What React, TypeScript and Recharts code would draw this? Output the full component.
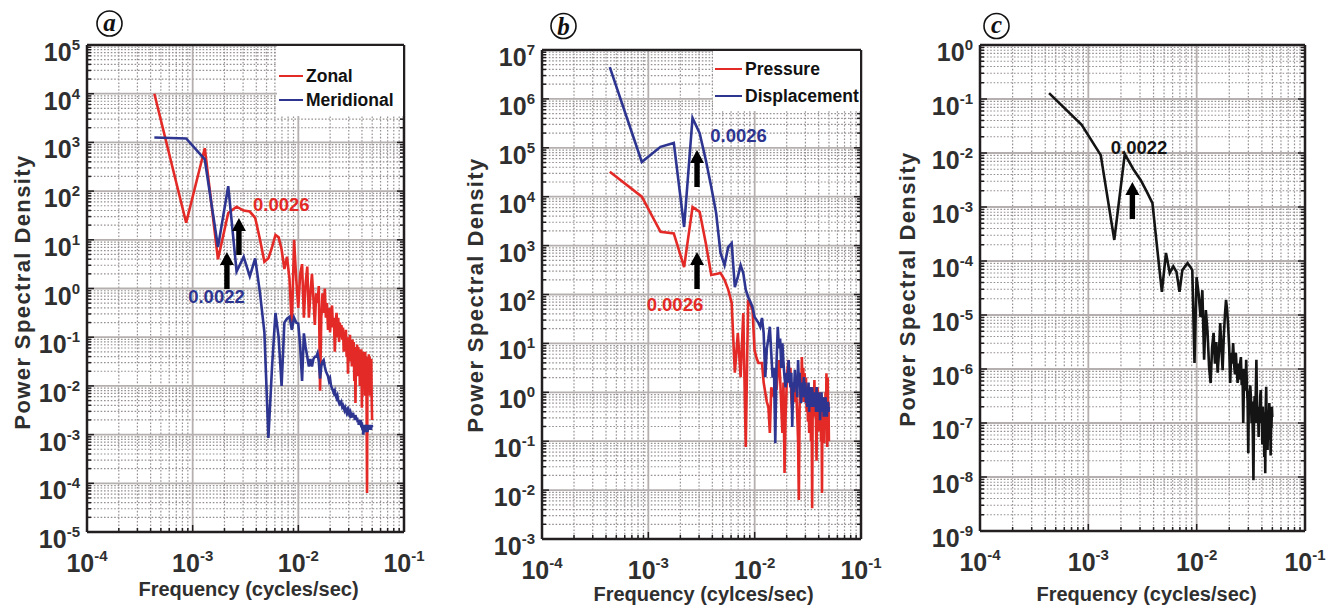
import React from "react";
import { CartesianGrid, Legend, Line, LineChart, ReferenceDot, XAxis, YAxis } from "recharts";

const RED = "#e42a26";
const BLUE = "#2d3590";
const BLACK = "#141414";
const AXIS = "#231f20";
const TXT = "#2f2f2f";
const SANS = "'Liberation Sans', Arial, Helvetica, sans-serif";
const SERIF = "'Liberation Serif', 'Times New Roman', serif";

// FFT bins: f = k * DF, k = 1..115
const DF = 0.000434;
const FREQ = Array.from({ length: 115 }, (_, i) => (i + 1) * DF);

const X_DECADES = [1e-4, 1e-3, 1e-2, 1e-1];
const Y_DECADES_A = [1e-5, 1e-4, 1e-3, 1e-2, 1e-1, 1, 10, 100, 1e3, 1e4, 1e5];
const Y_DECADES_B = [1e-3, 1e-2, 1e-1, 1, 10, 100, 1e3, 1e4, 1e5, 1e6, 1e7];
const Y_DECADES_C = [1e-9, 1e-8, 1e-7, 1e-6, 1e-5, 1e-4, 1e-3, 1e-2, 1e-1, 1];

// log10 of the PSD, one value per bin
const ZONAL_LOG = [
  4.0, 1.35, 2.88, 0.6, 1.55, 1.68, 1.6, 1.58, 1.45, 1.0,
  0.55, 0.62, 0.85, 1.1, 1.05, 0.8, 0.4, 0.65, 0.2, -0.8,
  1.0, 0.2, -0.4, 0.3, 0.5, -0.6, 0.1, 0.45, -0.6, -0.1,
  0.3, -0.2, -0.75, -0.1, -0.3, 0.05, -2.1, -0.6, -0.1, -0.5,
  0.0, -0.6, -0.3, -0.85, -0.4, -0.9, -0.5, -0.35, -0.8, -0.6,
  -1.3, -0.7, -0.5, -1.0, -0.6, -1.1, -0.7, -1.0, -0.75, -1.05,
  -0.8, -1.3, -0.9, -1.2, -0.85, -1.4, -1.0, -1.75, -1.0, -1.3,
  -0.95, -1.5, -1.1, -1.6, -1.05, -1.4, -1.1, -1.9, -1.2, -2.35,
  -1.3, -1.6, -1.15, -1.8, -1.2, -1.5, -1.25, -2.0, -1.3, -1.7,
  -1.25, -2.45, -1.35, -1.9, -1.3, -1.6, -1.45, -2.2, -1.3, -1.8,
  -1.4, -2.4, -4.2, -1.5, -1.45, -2.0, -1.35, -1.9, -1.4, -2.2,
  -1.5, -1.8, -1.45, -2.3, -2.7,
];
const MERIDIONAL_LOG = [
  3.1, 3.08, 2.65, 0.85, 2.1, 0.35, 0.65, 0.25, 0.62, -0.1,
  -0.9, -3.07, -1.6, -0.5, -1.0, -2.0, -0.7, -0.62, -0.58, -0.85,
  -0.6, -0.7, -0.72, -1.2, -1.9, -0.92, -1.2, -1.4, -1.6, -1.45,
  -1.6, -1.45, -1.4, -1.4, -1.33, -1.5, -1.85, -1.6, -1.5, -1.47,
  -1.6, -1.7, -1.75, -1.8, -1.9, -1.85, -2.0, -2.05, -2.1, -2.15,
  -2.1, -2.2, -2.25, -2.2, -2.3, -2.35, -2.3, -2.4, -2.35, -2.43,
  -2.4, -2.45, -2.5, -2.45, -2.5, -2.55, -2.5, -2.55, -2.5, -2.55,
  -2.6, -2.55, -2.6, -2.65, -2.6, -2.55, -2.65, -2.6, -2.7, -2.6,
  -2.65, -2.7, -2.65, -2.75, -2.7, -2.8, -2.7, -2.75, -2.8, -2.7,
  -2.85, -2.75, -2.9, -2.8, -3.0, -2.85, -2.8, -2.9, -2.95, -2.8,
  -2.85, -2.9, -2.8, -2.95, -2.85, -2.9, -2.8, -2.85, -2.9, -2.85,
  -2.8, -2.9, -2.85, -2.8, -2.85,
];
const PRESSURE_LOG = [
  4.51, 4.0, 3.28, 3.25, 2.56, 3.79, 3.69, 3.05, 2.4, 2.42,
  2.44, 2.3, 2.1, 1.83, 0.4, 1.21, 0.31, 1.62, -1.12, 1.89,
  1.8, 1.68, 0.86, 0.7, 0.6, 0.6, 0.6, 0.2, -0.01, -0.2,
  -0.3, -0.83, 0.1, 0.0, -0.1, 0.2, 0.05, 0.4, 0.66, 0.3,
  -0.3, -0.83, 0.2, -1.65, -0.5, 0.11, 0.5, 0.66, 0.2, 0.5,
  -0.1, -0.36, 0.1, 0.2, -0.2, 0.3, -0.1, -0.5, -1.0, -2.2,
  -0.3, 0.2, -0.2, 0.72, 0.1, 0.5, -0.2, 0.39, 0.0, 0.3,
  -0.4, 0.1, -0.6, 0.0, -0.83, -0.3, -0.1, -1.0, 0.0, -2.37,
  -0.2, 0.1, -0.5, 0.25, -0.3, 0.0, -0.7, -1.4, -0.2, 0.1,
  -0.4, -0.1, -0.8, 0.0, -0.5, -0.2, -1.0, -0.3, -2.06, -0.4,
  -0.1, -0.7, -0.2, -1.04, -0.3, -0.6, 0.0, -0.5, 0.39, -0.4,
  -1.12, 0.3, -0.6, -0.2, -1.0,
];
const DISPLACEMENT_LOG = [
  6.65, 4.71, 5.02, 5.1, 3.38, 5.61, 5.3, 4.75, 4.2, 3.67,
  2.85, 2.6, 2.97, 3.05, 2.15, 2.36, 2.6, 2.44, 2.1, 1.95,
  1.85, 1.74, 1.54, 1.48, 1.42, 1.34, 1.52, 1.21, 0.31, 0.9,
  1.1, 1.34, 0.8, 0.3, 0.5, -1.04, 0.6, 1.34, 0.9, 1.1,
  0.5, 1.0, 0.6, 0.3, 0.1, 0.4, 0.2, 0.66, 0.3, 0.1,
  0.4, -0.71, 0.2, 0.0, 0.46, 0.1, 0.3, -0.1, 0.66, 0.2,
  0.4, 0.0, -0.22, 0.2, -0.1, 0.1, 0.31, -0.1, 0.2, -0.22,
  0.1, -0.3, 0.0, 0.2, -0.4, 0.0, -0.2, 0.11, -0.3, 0.1,
  -0.1, -0.3, 0.0, -0.2, -0.3, 0.0, -0.4, 0.11, -0.2, -0.1,
  -0.4, 0.0, -0.3, -0.1, -0.57, -0.2, -0.4, 0.0, -0.3, -0.16,
  -0.4, -0.1, -0.5, -0.2, -0.3, -0.5, -0.1, -0.4, -0.2, -0.5,
  -0.3, -0.2, -0.22, -0.4, -0.3,
];
const PANEL_C_LOG = [
  -0.89, -1.48, -2.04, -3.61, -2.02, -2.3, -2.5, -2.72, -2.93, -3.8,
  -4.57, -3.85, -4.22, -4.1, -4.2, -4.57, -4.17, -4.1, -4.04, -4.1,
  -4.17, -5.89, -4.3, -4.6, -5.04, -4.54, -5.83, -4.91, -5.3, -5.96,
  -6.26, -5.6, -5.33, -5.9, -5.5, -6.07, -5.7, -5.15, -5.6, -6.02,
  -5.4, -5.0, -4.72, -4.9, -5.22, -5.6, -6.26, -5.7, -5.9, -5.52,
  -5.9, -6.1, -5.7, -6.0, -6.26, -5.9, -6.2, -5.9, -5.78, -6.3,
  -6.0, -7.0, -6.2, -6.0, -6.4, -5.83, -6.3, -6.6, -7.56, -6.4,
  -6.7, -6.3, -6.52, -7.0, -6.6, -7.2, -8.06, -6.8, -6.5, -7.0,
  -6.4, -5.83, -6.6, -7.0, -6.8, -7.26, -6.7, -6.9, -6.5, -6.39,
  -7.0, -6.8, -7.4, -6.7, -7.1, -6.9, -7.63, -6.8, -7.93, -6.7,
  -6.33, -7.0, -6.8, -7.5, -6.9, -7.31, -6.9, -6.63, -7.2, -6.9,
  -7.6, -6.8, -7.1, -6.7, -6.89,
];

// annotations: arrows point up to (f, v); labels are centred on (f, v)
type Note = { f: number; v: number; text?: string; color?: string };
const NOTES_A: Note[] = [
  { f: 0.0069, v: 52, text: "0.0026", color: RED },
  { f: 0.00168, v: 0.67, text: "0.0022", color: BLUE },
  { f: 0.00211, v: 5.6 },
  { f: 0.00274, v: 28 },
];
const NOTES_B: Note[] = [
  { f: 0.00706, v: 1.8e5, text: "0.0026", color: BLUE },
  { f: 0.00178, v: 61, text: "0.0026", color: RED },
  { f: 0.00287, v: 9.0e4 },
  { f: 0.00287, v: 740 },
];
const NOTES_C: Note[] = [
  { f: 0.00294, v: 0.0124, text: "0.0022", color: BLACK },
  { f: 0.00255, v: 2.9e-3 },
];

const PANEL_TAGS = [
  { label: "a", x: 109.5, y: 23.5 },
  { label: "b", x: 563.5, y: 26 },
  { label: "c", x: 996.5, y: 26 },
];

type Series = { key: string; name: string; color: string; values: number[] };
type PanelCfg = {
  left: number;
  width: number;
  margin: { top: number; right: number; bottom: number; left: number };
  yDecades: number[];
  series: Series[];
  notes: Note[];
  xTitle: string;
  xTitlePos: [number, number];
  yTitlePos: [number, number];
  legend?: { left: number; top: number; width: number; height: number; rows: number[]; lineLen: number };
};

const PANELS: PanelCfg[] = [
  {
    left: 0,
    width: 440,
    margin: { top: 44, right: 35, bottom: 46, left: 27 },
    yDecades: Y_DECADES_A,
    series: [
      { key: "zonal", name: "Zonal", color: RED, values: ZONAL_LOG },
      { key: "meridional", name: "Meridional", color: BLUE, values: MERIDIONAL_LOG },
    ],
    notes: NOTES_A,
    xTitle: "Frequency (cycles/sec)",
    xTitlePos: [248.5, 596],
    yTitlePos: [22, 292],
    legend: { left: 277, top: 46, width: 126, height: 70, rows: [30, 54], lineLen: 24 },
  },
  {
    left: 450,
    width: 440,
    margin: { top: 49, right: 28, bottom: 39, left: 32 },
    yDecades: Y_DECADES_B,
    series: [
      { key: "pressure", name: "Pressure", color: RED, values: PRESSURE_LOG },
      { key: "displacement", name: "Displacement", color: BLUE, values: DISPLACEMENT_LOG },
    ],
    notes: NOTES_B,
    xTitle: "Frequency (cylces/sec)",
    xTitlePos: [253.5, 601],
    yTitlePos: [25, 295],
    legend: { left: 263, top: 51, width: 147, height: 60, rows: [18, 45], lineLen: 27 },
  },
  {
    left: 890,
    width: 450,
    margin: { top: 44, right: 34, bottom: 47, left: 30 },
    yDecades: Y_DECADES_C,
    series: [{ key: "psd", name: "PSD", color: BLACK, values: PANEL_C_LOG }],
    notes: NOTES_C,
    xTitle: "Frequency (cycles/sec)",
    xTitlePos: [256.5, 601],
    yTitlePos: [17.5, 289],
  },
];

const CHART_H = 608;

const minorsOf = (decades: number[]) =>
  decades.slice(0, -1).flatMap((d) => [2, 3, 4, 5, 6, 7, 8, 9].map((m) => m * d));

const mapScale = (axis: any, vals: number[]): number[] => {
  const s = axis?.scale;
  if (!s) return [];
  return vals
    .map((v) => (typeof s === "function" ? s(v) : typeof s.map === "function" ? s.map(v) : NaN))
    .filter((n: number) => Number.isFinite(n));
};

const powLabel = (x: number, y: number, v: number, anchor: "middle" | "end") => (
  <text x={x} y={y} textAnchor={anchor} fill={TXT} fontFamily={SANS} fontWeight={700} fontSize={25}>
    10
    <tspan dy={-11} fontSize={15}>
      {String(Math.round(Math.log10(v)))}
    </tspan>
  </text>
);

const arrowPoints = (x: number, y: number) =>
  [
    [x, y],
    [x + 7, y + 13],
    [x + 2.7, y + 13],
    [x + 2.7, y + 37],
    [x - 2.7, y + 37],
    [x - 2.7, y + 13],
    [x - 7, y + 13],
  ]
    .map((p) => p.join(","))
    .join(" ");

function SpectrumPanel({ cfg }: { cfg: PanelCfg }) {
  const { yDecades, series, notes, legend } = cfg;
  const data = FREQ.map((f, i) => {
    const row: Record<string, number> = { f };
    series.forEach((s) => {
      row[s.key] = 10 ** s.values[i];
    });
    return row;
  });

  const xMinor = minorsOf(X_DECADES);
  const yMinor = minorsOf(yDecades);
  const xTicks = [...X_DECADES, ...xMinor].sort((a, b) => a - b);
  const yTicks = [...yDecades, ...yMinor].sort((a, b) => a - b);
  const xMajor = new Set(X_DECADES);
  const yMajor = new Set(yDecades);
  const xDomain = [X_DECADES[0], X_DECADES[X_DECADES.length - 1]];
  const yDomain = [yDecades[0], yDecades[yDecades.length - 1]];
  const edge = { stroke: AXIS, strokeWidth: 2.5 };
  const order = series.map((s) => s.key);

  return (
    <div style={{ position: "absolute", left: cfg.left, top: 0 }}>
      <LineChart width={cfg.width} height={CHART_H} data={data} margin={cfg.margin}>
        <CartesianGrid
          horizontalCoordinatesGenerator={(p: any) => mapScale(p.yAxis, yMinor)}
          verticalCoordinatesGenerator={(p: any) => mapScale(p.xAxis, xMinor)}
          stroke="#969090"
          strokeWidth={1.2}
          strokeDasharray="1.6 1.8"
        />
        <CartesianGrid
          horizontalCoordinatesGenerator={(p: any) => mapScale(p.yAxis, yDecades)}
          verticalCoordinatesGenerator={(p: any) => mapScale(p.xAxis, X_DECADES)}
          stroke="#b5afaf"
          strokeWidth={1.8}
        />
        <XAxis
          dataKey="f"
          type="number"
          scale="log"
          domain={xDomain}
          allowDataOverflow
          ticks={xTicks}
          interval={0}
          tickSize={0}
          tickMargin={0}
          tickLine={false}
          axisLine={edge}
          height={30}
          tick={(p: any) => {
            const major = xMajor.has(p.payload.value);
            return (
              <g>
                <line x1={p.x} x2={p.x} y1={p.y} y2={p.y - (major ? 7 : 4)} stroke={AXIS} strokeWidth={1.5} />
                {major && powLabel(p.x, p.y + 40, p.payload.value, "middle")}
              </g>
            );
          }}
          label={{
            content: () => (
              <text
                x={cfg.xTitlePos[0]}
                y={cfg.xTitlePos[1]}
                textAnchor="middle"
                fill={TXT}
                fontFamily={SANS}
                fontWeight={700}
                fontSize={20}
              >
                {cfg.xTitle}
              </text>
            ),
          }}
        />
        <XAxis
          xAxisId="top"
          orientation="top"
          type="number"
          scale="log"
          domain={xDomain}
          allowDataOverflow
          ticks={xTicks}
          interval={0}
          tickSize={0}
          tickMargin={0}
          tickLine={false}
          axisLine={edge}
          height={1}
          tick={(p: any) => {
            const major = xMajor.has(p.payload.value);
            return <line x1={p.x} x2={p.x} y1={p.y} y2={p.y + (major ? 7 : 4)} stroke={AXIS} strokeWidth={1.5} />;
          }}
        />
        <YAxis
          type="number"
          scale="log"
          domain={yDomain}
          allowDataOverflow
          ticks={yTicks}
          interval={0}
          tickSize={0}
          tickMargin={0}
          tickLine={false}
          axisLine={edge}
          width={60}
          tick={(p: any) => {
            const major = yMajor.has(p.payload.value);
            return (
              <g>
                <line x1={p.x} x2={p.x + (major ? 7 : 4)} y1={p.y} y2={p.y} stroke={AXIS} strokeWidth={1.5} />
                {major && powLabel(p.x - 7, p.y + 16, p.payload.value, "end")}
              </g>
            );
          }}
          label={{
            content: () => (
              <text
                x={cfg.yTitlePos[0]}
                y={cfg.yTitlePos[1]}
                transform={`rotate(-90 ${cfg.yTitlePos[0]} ${cfg.yTitlePos[1]})`}
                textAnchor="middle"
                dominantBaseline="central"
                fill={TXT}
                fontFamily={SANS}
                fontWeight={700}
                fontSize={22}
                letterSpacing={1.4}
              >
                Power Spectral Density
              </text>
            ),
          }}
        />
        <YAxis
          yAxisId="right"
          orientation="right"
          type="number"
          scale="log"
          domain={yDomain}
          allowDataOverflow
          ticks={yTicks}
          interval={0}
          tickSize={0}
          tickMargin={0}
          tickLine={false}
          axisLine={edge}
          width={1}
          tick={(p: any) => {
            const major = yMajor.has(p.payload.value);
            return <line x1={p.x} x2={p.x - (major ? 7 : 4)} y1={p.y} y2={p.y} stroke={AXIS} strokeWidth={1.5} />;
          }}
        />
        {series.map((s) => (
          <Line
            key={s.key}
            type="linear"
            dataKey={s.key}
            name={s.name}
            stroke={s.color}
            strokeWidth={2.6}
            dot={false}
            activeDot={false}
            isAnimationActive={false}
          />
        ))}
        {notes.map((n, i) => (
          <ReferenceDot
            key={`note-${i}`}
            x={n.f}
            y={n.v}
            r={0}
            ifOverflow="visible"
            shape={(p: any) =>
              n.text ? (
                <text
                  x={p.cx}
                  y={p.cy + 6.5}
                  textAnchor="middle"
                  fill={n.color}
                  fontFamily={SANS}
                  fontWeight={700}
                  fontSize={18.5}
                >
                  {n.text}
                </text>
              ) : (
                <polygon points={arrowPoints(p.cx, p.cy)} fill="#000" />
              )
            }
          />
        ))}
        {legend && (
          <Legend
            layout="horizontal"
            verticalAlign="middle"
            align="center"
            wrapperStyle={{ left: legend.left, top: legend.top, width: legend.width, height: legend.height }}
            content={(props: any) => {
              const entries = [...(props.payload || [])].sort(
                (a: any, b: any) => order.indexOf(a.dataKey) - order.indexOf(b.dataKey),
              );
              return (
                <div style={{ position: "relative", width: legend.width, height: legend.height, background: "#ffffff" }}>
                  {entries.map((entry: any, i: number) => (
                    <div
                      key={`leg-${i}`}
                      style={{
                        position: "absolute",
                        left: 2,
                        top: legend.rows[i] - 12,
                        height: 24,
                        display: "flex",
                        alignItems: "center",
                        whiteSpace: "nowrap",
                      }}
                    >
                      <span
                        style={{
                          display: "inline-block",
                          width: legend.lineLen,
                          height: 2.5,
                          background: entry.color,
                          marginRight: 3,
                        }}
                      />
                      <span style={{ fontFamily: SANS, fontWeight: 700, fontSize: 17.5, color: "#111" }}>
                        {entry.value}
                      </span>
                    </div>
                  ))}
                </div>
              );
            }}
          />
        )}
      </LineChart>
    </div>
  );
}

export default function App() {
  return (
    <div style={{ position: "absolute", left: 0, top: 0, width: 1340, height: 608, background: "#ffffff", overflow: "hidden" }}>
      {PANELS.map((cfg, i) => (
        <SpectrumPanel key={`panel-${i}`} cfg={cfg} />
      ))}
      <svg width={1340} height={608} style={{ position: "absolute", left: 0, top: 0, pointerEvents: "none" }}>
        {PANEL_TAGS.map((t) => (
          <g key={t.label}>
            <circle cx={t.x} cy={t.y} r={12.5} fill="none" stroke="#111" strokeWidth={1.6} />
            <text
              x={t.x}
              y={t.y + (t.label === "b" ? 8.5 : 7)}
              textAnchor="middle"
              fontFamily={SERIF}
              fontStyle="italic"
              fontWeight={700}
              fontSize={25}
              fill="#111"
            >
              {t.label}
            </text>
          </g>
        ))}
      </svg>
    </div>
  );
}
